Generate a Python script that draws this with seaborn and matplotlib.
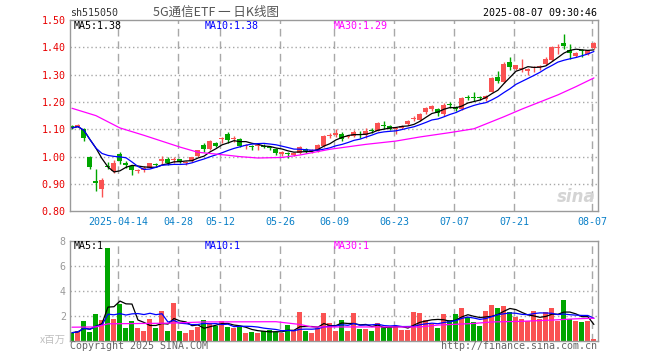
import numpy as np
import pandas as pd
import matplotlib
matplotlib.use("Agg")
import matplotlib.pyplot as plt
import seaborn as sns

sns.set_style("white")
plt.rcParams['font.family'] = ['DejaVu Sans Mono', 'Noto Sans CJK SC', 'DejaVu Sans']

# trading days 2025-04-01 .. 2025-08-07 (holidays removed)
holidays = ["2025-04-04", "2025-05-01", "2025-05-02", "2025-05-05", "2025-06-02"]
dates = [d for d in pd.bdate_range("2025-04-01", "2025-08-07").strftime("%Y-%m-%d") if d not in holidays]

opens = [1.112, 1.110, 1.100, 0.998, 0.910, 0.883, 0.965, 0.947, 1.010, 0.978,
         0.965, 0.947, 0.950, 0.959, 0.974, 0.985, 0.991, 0.986, 0.991, 0.978,
         0.985, 1.001, 1.041, 1.028, 1.051, 1.064, 1.084, 1.064, 1.063, 1.038,
         1.038, 1.039, 1.039, 1.035, 1.029, 1.009, 1.010, 1.006, 1.012, 1.027,
         1.019, 1.021, 1.039, 1.077, 1.078, 1.084, 1.072, 1.075, 1.082, 1.078,
         1.096, 1.095, 1.115, 1.111, 1.100, 1.105, 1.120, 1.138, 1.135, 1.162,
         1.173, 1.174, 1.155, 1.192, 1.182, 1.173, 1.218, 1.220, 1.217, 1.211,
         1.238, 1.292, 1.272, 1.345, 1.321, 1.322, 1.315, 1.323, 1.327, 1.340,
         1.354, 1.397, 1.416, 1.390, 1.370, 1.392, 1.376, 1.398]
highs = [1.115, 1.120, 1.105, 1.001, 0.956, 0.922, 0.980, 0.989, 1.017, 0.985,
         0.971, 0.956, 0.964, 0.978, 0.976, 1.001, 1.000, 1.000, 0.993, 0.985,
         1.000, 1.026, 1.049, 1.061, 1.054, 1.072, 1.090, 1.076, 1.070, 1.048,
         1.043, 1.048, 1.045, 1.040, 1.033, 1.021, 1.017, 1.015, 1.038, 1.030,
         1.027, 1.045, 1.078, 1.088, 1.100, 1.089, 1.080, 1.096, 1.093, 1.103,
         1.105, 1.125, 1.129, 1.115, 1.108, 1.115, 1.135, 1.150, 1.160, 1.182,
         1.188, 1.178, 1.198, 1.200, 1.186, 1.220, 1.227, 1.235, 1.222, 1.225,
         1.290, 1.314, 1.345, 1.363, 1.336, 1.357, 1.326, 1.330, 1.335, 1.363,
         1.404, 1.412, 1.449, 1.412, 1.384, 1.394, 1.391, 1.418]
lows = [1.100, 1.108, 1.056, 0.956, 0.873, 0.853, 0.953, 0.941, 0.973, 0.960,
        0.934, 0.939, 0.945, 0.957, 0.965, 0.974, 0.970, 0.976, 0.977, 0.970,
        0.980, 0.999, 1.017, 1.024, 1.036, 1.051, 1.051, 1.054, 1.035, 1.029,
        1.025, 1.025, 1.030, 1.025, 1.007, 1.003, 0.994, 1.003, 1.009, 1.015,
        1.012, 1.018, 1.036, 1.070, 1.071, 1.059, 1.068, 1.071, 1.070, 1.067,
        1.085, 1.093, 1.101, 1.097, 1.083, 1.100, 1.115, 1.130, 1.132, 1.157,
        1.168, 1.150, 1.150, 1.178, 1.168, 1.170, 1.208, 1.204, 1.208, 1.205,
        1.235, 1.271, 1.270, 1.318, 1.318, 1.308, 1.300, 1.310, 1.318, 1.337,
        1.351, 1.375, 1.394, 1.357, 1.366, 1.363, 1.372, 1.395]
closes = [1.105, 1.115, 1.068, 0.962, 0.905, 0.915, 0.961, 0.977, 0.983, 0.969,
          0.950, 0.950, 0.960, 0.977, 0.968, 0.992, 0.975, 0.993, 0.980, 0.981,
          0.997, 1.024, 1.027, 1.057, 1.040, 1.067, 1.060, 1.068, 1.040, 1.040,
          1.036, 1.042, 1.036, 1.032, 1.013, 1.017, 1.008, 1.012, 1.036, 1.019,
          1.022, 1.041, 1.075, 1.080, 1.088, 1.066, 1.077, 1.092, 1.080, 1.095,
          1.094, 1.122, 1.112, 1.101, 1.105, 1.113, 1.131, 1.140, 1.157, 1.178,
          1.184, 1.158, 1.190, 1.188, 1.174, 1.216, 1.214, 1.216, 1.215, 1.221,
          1.287, 1.276, 1.338, 1.327, 1.334, 1.325, 1.322, 1.325, 1.330, 1.359,
          1.400, 1.399, 1.406, 1.380, 1.381, 1.388, 1.389, 1.415]
# volume, millions
volumes = [0.64, 0.77, 1.57, 0.69, 2.13, 1.65, 7.40, 1.73, 2.95, 1.01,
           1.57, 1.01, 0.77, 1.73, 1.01, 2.37, 0.77, 3.00, 0.77, 0.61,
           0.85, 1.09, 1.65, 1.39, 1.20, 1.57, 1.09, 1.01, 1.09, 0.61,
           0.69, 0.61, 0.77, 0.85, 0.69, 0.61, 1.25, 0.75, 2.29, 0.77,
           0.61, 1.00, 2.20, 1.44, 0.80, 1.65, 0.80, 2.19, 0.90, 0.96,
           0.80, 1.44, 1.12, 1.12, 1.12, 0.85, 0.85, 2.29, 2.24, 1.65,
           1.33, 1.01, 2.13, 1.65, 2.13, 2.61, 1.87, 1.49, 1.17, 2.37,
           2.85, 2.61, 2.77, 2.29, 1.92, 1.73, 1.60, 2.37, 1.73, 2.29,
           2.61, 1.57, 3.25, 1.73, 1.57, 1.49, 1.57, 0.13]

# 30-day averages (history before 04-01 not shown)
ma30_idx = [0, 4, 8, 12, 18, 21, 26, 28, 31, 35, 38, 43, 49, 54, 58, 63, 67, 72, 75, 78, 81, 84, 87]
ma30_val = [1.177, 1.150, 1.105, 1.078, 1.035, 1.016, 1.005, 1.000, 0.995, 0.997, 1.006, 1.027,
            1.045, 1.057, 1.072, 1.088, 1.102, 1.146, 1.174, 1.200, 1.226, 1.256, 1.288]
vma30_idx = [0, 4, 6, 16, 22, 34, 38, 40, 58, 61, 67, 70, 75, 80, 84, 87]
vma30_val = [1.08, 1.10, 1.35, 1.40, 1.50, 1.52, 1.30, 1.10, 1.10, 1.25, 1.38, 1.50, 1.55, 1.65, 1.75, 1.80]

tick_dates = ["2025-04-14", "2025-04-28", "2025-05-12", "2025-05-26", "2025-06-09",
              "2025-06-23", "2025-07-07", "2025-07-21", "2025-08-07"]
price_ticks = [0.80, 0.90, 1.00, 1.10, 1.20, 1.30, 1.40, 1.50]
vol_ticks = [2, 4, 6, 8]

RED = "#fa5252"
GREEN = "#00a600"
GRID = "#a8a8a8"

df = pd.DataFrame({"date": dates, "open": opens, "high": highs, "low": lows,
                   "close": closes, "vol": volumes})
df["i"] = np.arange(len(df))
df["ma5"] = df["close"].rolling(5, min_periods=1).mean()
df["ma10"] = df["close"].rolling(10, min_periods=1).mean()
df["vma5"] = df["vol"].rolling(5, min_periods=1).mean()
df["vma10"] = df["vol"].rolling(10, min_periods=1).mean()
col = np.where(df["close"] >= df["open"], RED, GREEN)

fig = plt.figure(figsize=(6.6, 3.6), dpi=100)
W, H = 660, 360
ax1 = fig.add_axes([70 / W, 1 - 211.3 / H, 527.5 / W, 191.3 / H])
ax2 = fig.add_axes([70 / W, 1 - 340.7 / H, 527.5 / W, 100 / H])

tick_pos = [dates.index(d) - 0.27 for d in tick_dates]
tick_lab = [tick_dates[0]] + [d[5:] for d in tick_dates[1:]]

for ax in (ax1, ax2):
    ax.set_xlim(-0.33, 87.6)
    for s in ax.spines.values():
        s.set_color("#9a9a9a")
        s.set_linewidth(1)
        s.set_zorder(6)
    ax.vlines(tick_pos, 0, 1, transform=ax.get_xaxis_transform(), colors=GRID,
              linewidth=1, linestyles=[(0, (5.5, 3.5))], zorder=1)

# candles
body_lo = np.minimum(df["open"], df["close"])
body_h = np.maximum((df["close"] - df["open"]).abs(), 0.004)
ax1.vlines(df["i"], df["low"], df["high"], colors=col, linewidth=1, zorder=2)
ax1.bar(df["i"], body_h, bottom=body_lo, width=0.84, color=col, linewidth=0, zorder=3)
sns.lineplot(x=df["i"], y=df["ma5"], ax=ax1, color="black", linewidth=0.9, zorder=4)
sns.lineplot(x=df["i"], y=df["ma10"], ax=ax1, color="#0000ff", linewidth=0.9, zorder=4)
sns.lineplot(x=ma30_idx, y=ma30_val, ax=ax1, color="#ff00ff", linewidth=0.9, zorder=4)
ax1.set_ylim(0.80, 1.50)
ax1.hlines(price_ticks[1:-1], 0, 1, transform=ax1.get_yaxis_transform(), colors=GRID,
           linewidth=1, linestyles=[(0, (1, 2))], zorder=1)
ax1.set_yticks(price_ticks, [f"{v:.2f}" for v in price_ticks])
ax1.set_xticks(tick_pos, tick_lab)
ax1.tick_params(axis="y", length=0, pad=3, labelsize=7.2, labelcolor="#e80000")
ax1.tick_params(axis="x", length=0, pad=4, labelsize=7.2, labelcolor="#0a80c8")
ax1.set_xlabel("")
ax1.set_ylabel("")

# volume
ax2.bar(df["i"], df["vol"], width=0.84, color=col, linewidth=0, zorder=2)
sns.lineplot(x=df["i"], y=df["vma5"], ax=ax2, color="black", linewidth=0.9, zorder=4)
sns.lineplot(x=df["i"], y=df["vma10"], ax=ax2, color="#0000ff", linewidth=0.9, zorder=4)
sns.lineplot(x=vma30_idx, y=vma30_val, ax=ax2, color="#ff00ff", linewidth=0.9, zorder=4)
ax2.set_ylim(0, 8)
ax2.hlines(vol_ticks[:-1], 0, 1, transform=ax2.get_yaxis_transform(), colors=GRID,
           linewidth=1, linestyles=[(0, (1, 2))], zorder=1)
ax2.set_yticks(vol_ticks, [str(v) for v in vol_ticks])
ax2.set_xticks([])
ax2.tick_params(axis="y", length=0, pad=3, labelsize=7.2, labelcolor="#9a9a9a")
ax2.set_xlabel("")
ax2.set_ylabel("")

# header / labels
def ftext(x, y, s, size=7.2, **kw):
    fig.text(x / W, 1 - y / H, s, va="center", fontsize=size, **kw)

ftext(70, 13, "sh515050", color="#333333")
ftext(216, 12.5, "5G通信ETF 一 日K线图", ha="center", color="#555555", size=9,
      family=["Noto Sans CJK SC", "DejaVu Sans"])
ftext(597, 13, "2025-08-07 09:30:46", ha="right", color="black")
ftext(74, 26, "MA5:1.38", color="black")
ftext(205, 26, "MA10:1.38", color="#0000ff")
ftext(334, 26, "MA30:1.29", color="#ff00ff")
ftext(74, 246, "MA5:1", color="black")
ftext(205, 246, "MA10:1", color="#0000ff")
ftext(334, 246, "MA30:1", color="#ff00ff")
ftext(66, 340, "x百万", ha="right", color="#c0c0c0", size=7.5,
      family=["Noto Sans CJK SC", "DejaVu Sans"])
ftext(70, 346, "Copyright 2025 SINA.COM", color="#666666")
ftext(597, 346, "http://finance.sina.com.cn", ha="right", color="#666666")
ftext(596, 197, "sina", ha="right", color="#d4d4d4", size=12, style="italic",
      weight="bold", family=["DejaVu Sans"])

fig.savefig("out.png", dpi=100, facecolor="white")
